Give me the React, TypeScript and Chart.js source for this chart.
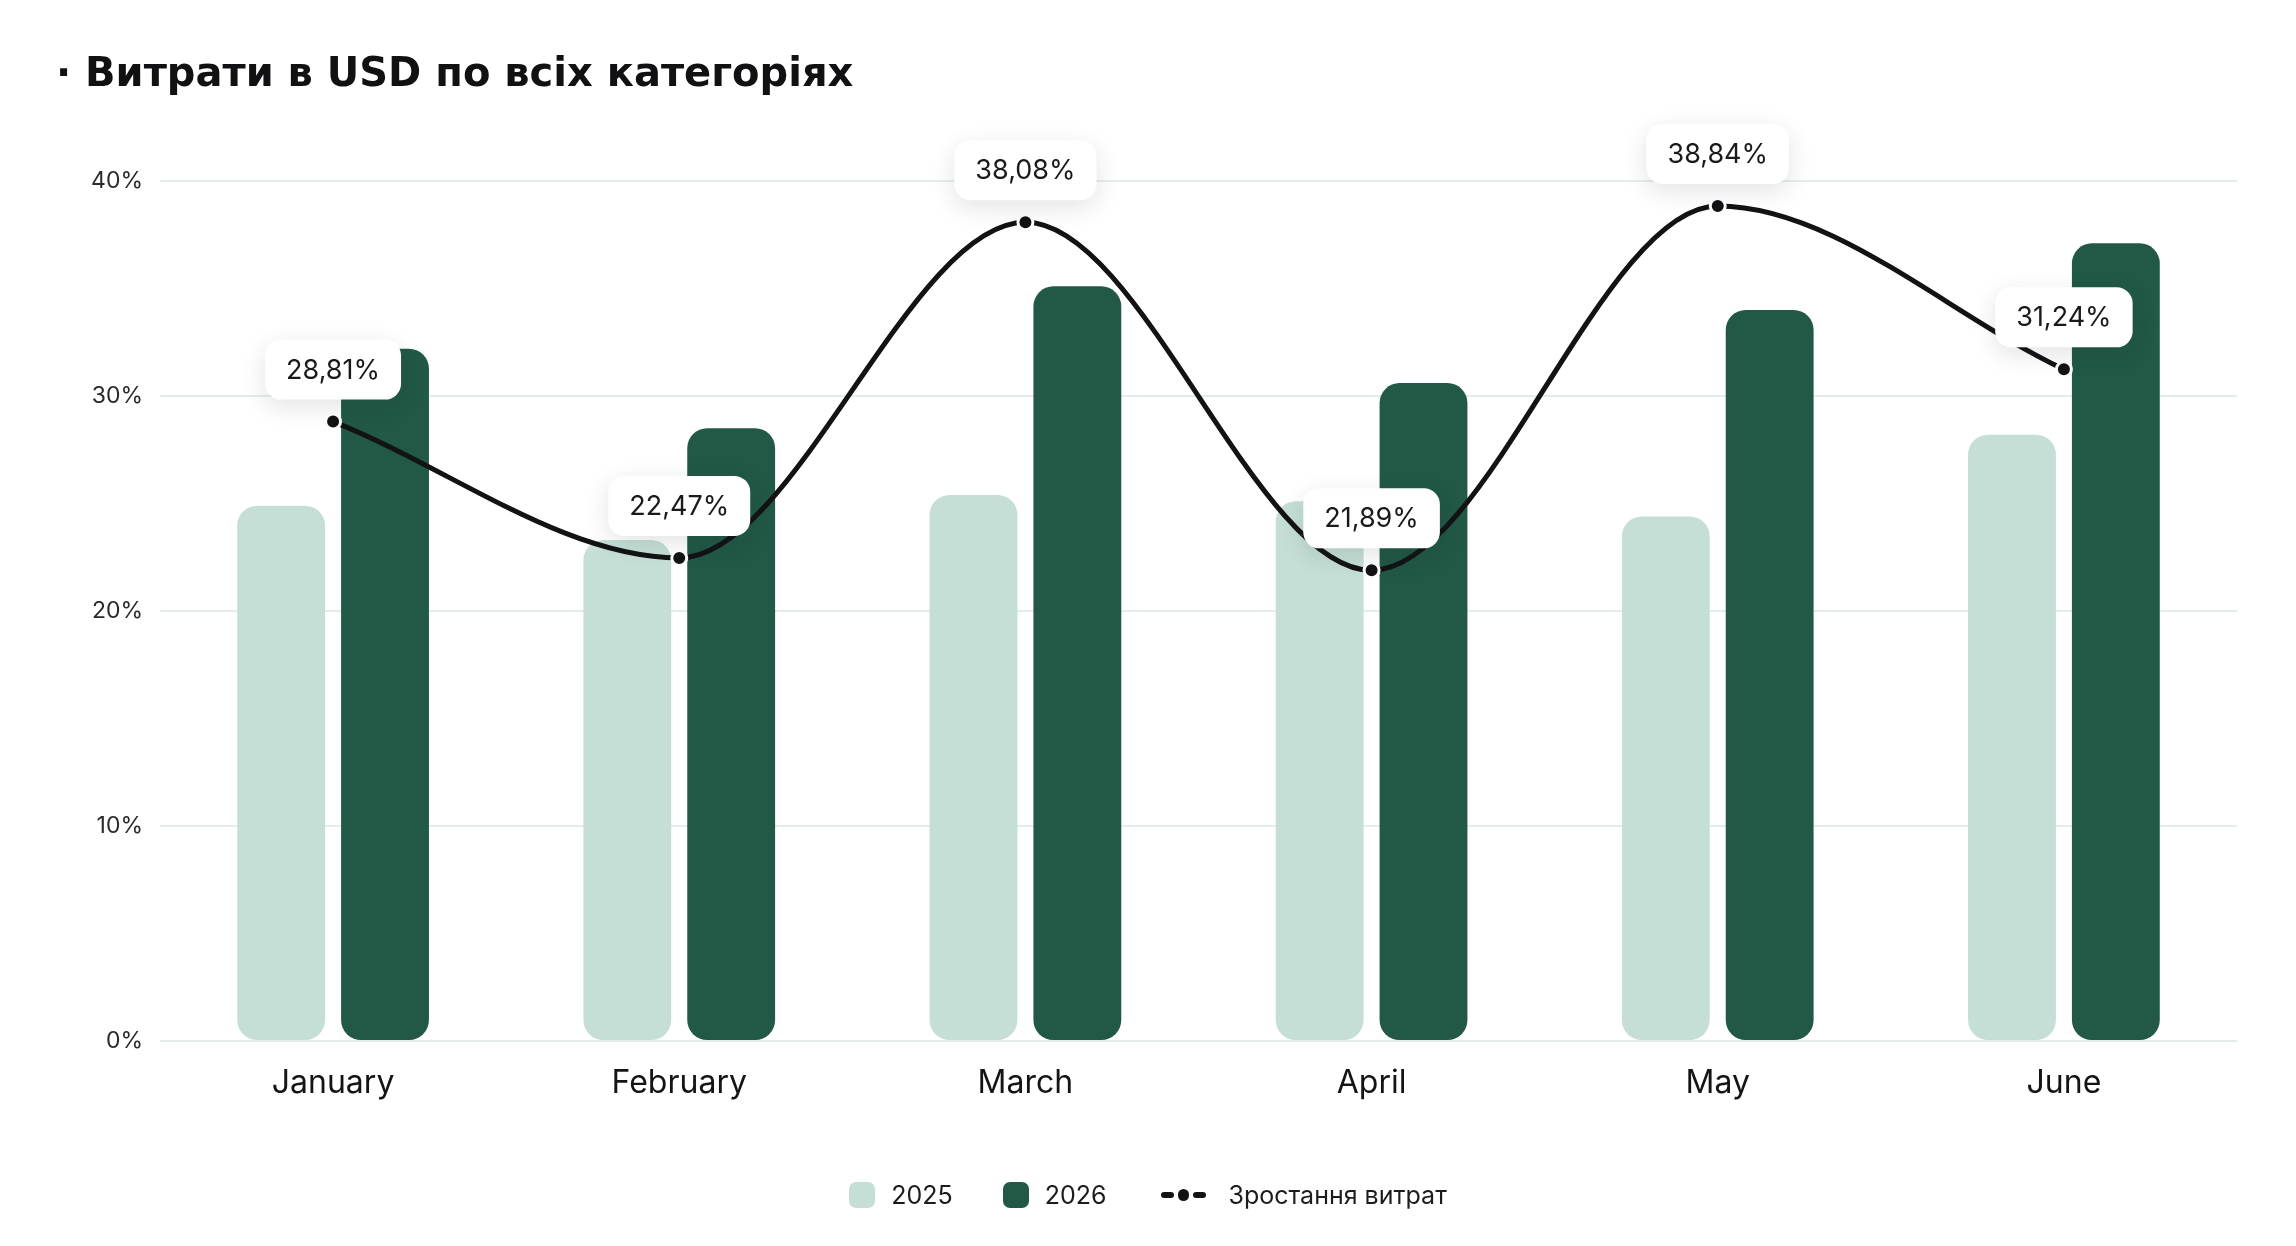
import React, { useEffect, useRef } from 'react';
import { Chart } from 'chart.js/auto';

const chartTitle = 'Витрати в USD по всіх категоріях';
const months = ['January', 'February', 'March', 'April', 'May', 'June'];
const spend2025 = [24.9, 23.3, 25.4, 25.1, 24.4, 28.2];
const spend2026 = [32.2, 28.5, 35.1, 30.6, 34.0, 37.1];
const growth = [28.81, 22.47, 38.08, 21.89, 38.84, 31.24];
const yTicks = [0, 10, 20, 30, 40];
const seriesNames = ['2025', '2026', 'Зростання витрат'];

const light = '#c5dfd6';
const dark = '#215846';
const ink = '#131316';
const gridColor = '#e3eee7';
const font = 'Inter';

const fmt = (v: number) => v.toFixed(2).replace('.', ',') + '%';

// white rounded badges above the line points
const pointLabels = {
    id: 'pointLabels',
    afterDatasetsDraw(chart: any) {
        const meta = chart.getDatasetMeta(2);
        const ctx = chart.ctx as CanvasRenderingContext2D;
        ctx.save();
        ctx.font = `400 27px ${font}`;
        meta.data.forEach((pt: any, i: number) => {
            const text = fmt(growth[i]);
            const w = ctx.measureText(text).width + 42;
            const h = 60;
            const cx = pt.x;
            const cy = pt.y - 52;
            ctx.shadowColor = 'rgba(30, 40, 35, 0.13)';
            ctx.shadowBlur = 24;
            ctx.shadowOffsetY = 7;
            ctx.fillStyle = '#ffffff';
            ctx.beginPath();
            ctx.roundRect(cx - w / 2, cy - h / 2, w, h, 16);
            ctx.fill();
            ctx.shadowColor = 'transparent';
            ctx.shadowBlur = 0;
            ctx.shadowOffsetY = 0;
            ctx.fillStyle = '#1a1a1c';
            ctx.textAlign = 'center';
            ctx.textBaseline = 'middle';
            ctx.fillText(text, cx, cy + 1);
        });
        ctx.restore();
    },
};

const GrowthChart: React.FC = () => {
    const chartRef = useRef<HTMLCanvasElement>(null);
    const chartInstance = useRef<Chart | null>(null);

    useEffect(() => {
        if (!chartRef.current) return;
        if (chartInstance.current) chartInstance.current.destroy();
        const ctx = chartRef.current.getContext('2d');
        if (!ctx) return;

        Chart.defaults.font.family = font;

        chartInstance.current = new Chart(ctx, {
            type: 'bar',
            data: {
                labels: months,
                datasets: [
                    {
                        type: 'bar',
                        label: seriesNames[0],
                        data: spend2025,
                        backgroundColor: light,
                        borderRadius: 20,
                        borderSkipped: false,
                        categoryPercentage: 0.6,
                        barPercentage: 0.846,
                        order: 1,
                    },
                    {
                        type: 'bar',
                        label: seriesNames[1],
                        data: spend2026,
                        backgroundColor: dark,
                        borderRadius: 20,
                        borderSkipped: false,
                        categoryPercentage: 0.6,
                        barPercentage: 0.846,
                        order: 1,
                    },
                    {
                        type: 'line',
                        label: seriesNames[2],
                        data: growth,
                        borderColor: ink,
                        borderWidth: 5,
                        cubicInterpolationMode: 'monotone',
                        pointRadius: 7.5,
                        pointBorderWidth: 3,
                        pointBackgroundColor: ink,
                        pointBorderColor: '#ffffff',
                        fill: false,
                        order: 0,
                    } as any,
                ],
            },
            options: {
                responsive: true,
                maintainAspectRatio: false,
                animation: false,
                layout: { padding: { left: 56, right: 59, top: 0, bottom: 115 } },
                plugins: {
                    legend: { display: false },
                    tooltip: { enabled: false },
                    title: {
                        display: true,
                        text: '· ' + chartTitle,
                        align: 'start',
                        color: '#111113',
                        font: { family: 'DejaVu Sans', size: 40, weight: 700 },
                        padding: { top: 52, bottom: 81 },
                    },
                },
                scales: {
                    x: {
                        grid: { display: false },
                        border: { display: false },
                        ticks: {
                            color: '#141416',
                            padding: 15,
                            font: { family: font, size: 32, weight: 400 },
                        },
                        afterFit(scale: any) {
                            scale.height = 90;
                        },
                    },
                    y: {
                        min: yTicks[0],
                        max: yTicks[yTicks.length - 1],
                        grid: { color: gridColor, lineWidth: 2, drawTicks: false },
                        border: { display: false },
                        afterBuildTicks(scale: any) {
                            scale.ticks = yTicks.map((v) => ({ value: v }));
                        },
                        ticks: {
                            color: '#2a2a2c',
                            padding: 17,
                            font: { family: font, size: 23, weight: 400 },
                            callback: (v: any) => `${v}%`,
                        },
                        afterFit(scale: any) {
                            scale.width = 104;
                        },
                    },
                },
            },
            plugins: [pointLabels],
        });

        return () => {
            if (chartInstance.current) {
                chartInstance.current.destroy();
                chartInstance.current = null;
            }
        };
    }, []);

    return <canvas ref={chartRef} />;
};

const swatch = (color: string) => (
    <span style={{ display: 'inline-block', width: 26, height: 26, borderRadius: 7, background: color }} />
);

const lineMarker = (
    <span style={{ display: 'inline-flex', alignItems: 'center', gap: 4 }}>
        <span style={{ width: 13, height: 6, borderRadius: 3, background: ink }} />
        <span style={{ width: 11, height: 12, borderRadius: 6, background: ink }} />
        <span style={{ width: 13, height: 6, borderRadius: 3, background: ink }} />
    </span>
);

const App: React.FC = () => {
    const textStyle: React.CSSProperties = { fontSize: 25, color: '#1c1c1e', lineHeight: '30px' };
    return (
        <div style={{ position: 'absolute', left: 0, top: 0, width: 2296, height: 1246, background: '#fff', fontFamily: font }}>
            <GrowthChart />
            <div
                style={{
                    position: 'absolute',
                    left: 0,
                    right: 0,
                    top: 1180,
                    height: 30,
                    display: 'flex',
                    justifyContent: 'center',
                    alignItems: 'center',
                }}
            >
                {swatch(light)}
                <span style={{ ...textStyle, marginLeft: 16 }}>{seriesNames[0]}</span>
                <span style={{ width: 50 }} />
                {swatch(dark)}
                <span style={{ ...textStyle, marginLeft: 16 }}>{seriesNames[1]}</span>
                <span style={{ width: 55 }} />
                {lineMarker}
                <span style={{ ...textStyle, marginLeft: 22 }}>{seriesNames[2]}</span>
            </div>
        </div>
    );
};

export default App;
